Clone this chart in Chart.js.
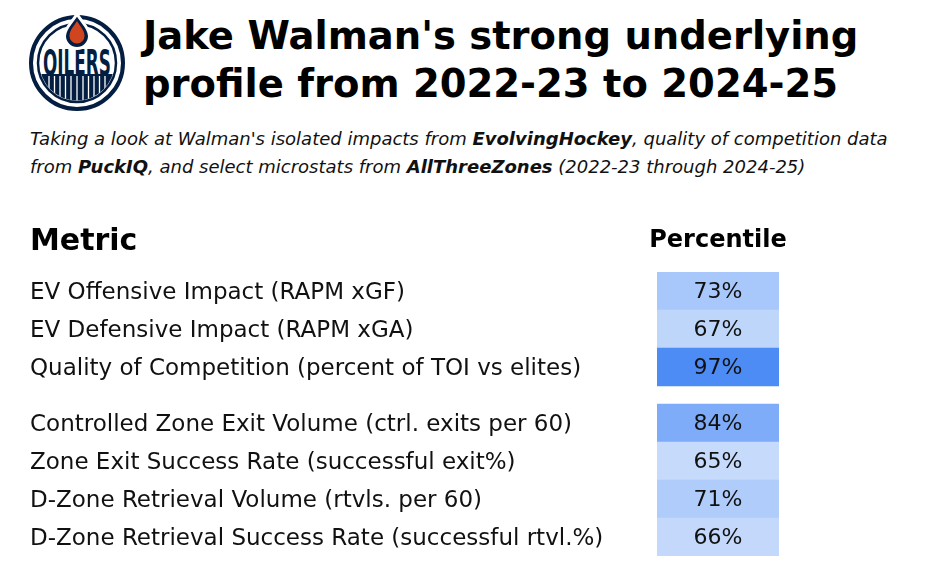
<!DOCTYPE html>
<html>
<head>
<meta charset="utf-8">
<script src="https://cdn.jsdelivr.net/npm/chart.js"></script>
<style>
  body{margin:0;background:#fff;font-family:"DejaVu Sans",sans-serif;color:#000}
  #wrap{position:relative;width:925px;height:570px;overflow:hidden}
  #logo{position:absolute;left:27px;top:13px}
  #title{position:absolute;left:143px;top:12px;font-size:38.5px;font-weight:700;line-height:48px;white-space:nowrap}
  #sub{position:absolute;left:30px;top:125px;font-size:18px;font-style:italic;line-height:28px;white-space:nowrap;color:#111}
  #sub b{font-weight:800}
  #box{position:absolute;left:0;top:200px;width:925px;height:370px}
</style>
</head>
<body>
<div id="wrap">
  <svg id="logo" width="100" height="100" viewBox="0 0 100 100">
    <defs>
      <clipPath id="inner"><circle cx="50" cy="50" r="37.5"/></clipPath>
    </defs>
    <circle cx="50" cy="50" r="46" fill="#fff" stroke="#041e42" stroke-width="4"/>
    <circle cx="50" cy="50" r="39" fill="none" stroke="#041e42" stroke-width="2.5"/>
    <g clip-path="url(#inner)">
      <rect x="0" y="61" width="100" height="40" fill="#041e42"/>
      <g stroke="#fff" stroke-width="1.3">
        <line x1="22" y1="63" x2="22" y2="100"/>
        <line x1="27.5" y1="63" x2="27.5" y2="100"/>
        <line x1="33" y1="63" x2="33" y2="100"/>
        <line x1="38.5" y1="63" x2="38.5" y2="100"/>
        <line x1="44" y1="63" x2="44" y2="100"/>
        <line x1="50" y1="63" x2="50" y2="100"/>
        <line x1="56" y1="63" x2="56" y2="100"/>
        <line x1="61.5" y1="63" x2="61.5" y2="100"/>
        <line x1="67" y1="63" x2="67" y2="100"/>
        <line x1="72.5" y1="63" x2="72.5" y2="100"/>
        <line x1="78" y1="63" x2="78" y2="100"/>
      </g>
    </g>
    <text x="16" y="62" font-family="DejaVu Sans Condensed" font-weight="bold" font-size="35" fill="#041e42" textLength="68" lengthAdjust="spacingAndGlyphs">OILERS</text>
    <path d="M50,1 C45,9.5 37.5,15 37.5,23 A12.5,12.5 0 0 0 62.5,23 C62.5,15 55,9.5 50,1Z" fill="#041e42" stroke="#fff" stroke-width="3"/>
    <path d="M50,8 C46.5,13.5 42.5,17.5 42.5,23 A7.5,7.5 0 0 0 57.5,23 C57.5,17.5 53.5,13.5 50,8Z" fill="#cf4520"/>
  </svg>
  <div id="title">Jake Walman's strong underlying<br>profile from 2022-23 to 2024-25</div>
  <div id="sub">Taking a look at Walman's isolated impacts from <b>EvolvingHockey</b>, quality of competition data<br>from <b>PuckIQ</b>, and select microstats from <b>AllThreeZones</b> (2022-23 through 2024-25)</div>
  <div id="box"><canvas id="c"></canvas></div>
</div>
<script>
const metrics = [
  'EV Offensive Impact (RAPM xGF)',
  'EV Defensive Impact (RAPM xGA)',
  'Quality of Competition (percent of TOI vs elites)',
  'Controlled Zone Exit Volume (ctrl. exits per 60)',
  'Zone Exit Success Rate (successful exit%)',
  'D-Zone Retrieval Volume (rtvls. per 60)',
  'D-Zone Retrieval Success Rate (successful rtvl.%)'
];
const percentiles = [73, 67, 97, 84, 65, 71, 66];
const groups = [0, 0, 0, 1, 1, 1, 1];
const headers = ['Metric', 'Percentile'];

const FONT = 'DejaVu Sans';
// gap between the two blocks, as a share of one row
const GAP = 18 / 38;
const rowPos = groups.map((g, i) => i + g * GAP);

function cellColor(v) {
  let t = Math.max(0, Math.min(1, (v - 50) / 50));
  let lo = [255, 255, 255], hi = [66, 133, 244];
  let c = lo.map((l, k) => Math.round(l + (hi[k] - l) * t));
  return 'rgb(' + c.join(',') + ')';
}

const cellText = {
  id: 'cellText',
  afterDatasetsDraw(chart) {
    const ctx = chart.ctx;
    const meta = chart.getDatasetMeta(0);
    ctx.save();
    ctx.font = '22px ' + FONT;
    ctx.fillStyle = '#111';
    ctx.textAlign = 'center';
    ctx.textBaseline = 'middle';
    meta.data.forEach((bar, i) => {
      ctx.fillText(percentiles[i] + '%', (bar.x + bar.base) / 2, bar.y + 1);
    });
    ctx.restore();
  }
};

const headerText = {
  id: 'headerText',
  afterDraw(chart) {
    const ctx = chart.ctx;
    const area = chart.chartArea;
    ctx.save();
    ctx.fillStyle = '#000';
    ctx.textBaseline = 'alphabetic';
    ctx.font = 'bold 30px ' + FONT;
    ctx.textAlign = 'left';
    ctx.fillText(headers[0], chart.scales.y.left, 50);
    ctx.font = 'bold 24px ' + FONT;
    ctx.textAlign = 'center';
    ctx.fillText(headers[1], (area.left + area.right) / 2, 47);
    ctx.restore();
  }
};

new Chart(document.getElementById('c'), {
  type: 'bar',
  data: {
    datasets: [{
      data: percentiles.map((v, i) => ({ x: [0, 1], y: rowPos[i], v: v })),
      backgroundColor: ctx => cellColor(ctx.raw ? ctx.raw.v : 50),
      borderWidth: 0,
      borderSkipped: false,
      barPercentage: 1,
      categoryPercentage: 1
    }]
  },
  options: {
    indexAxis: 'y',
    responsive: true,
    maintainAspectRatio: false,
    animation: false,
    layout: { padding: { left: 30, right: 146, top: 72, bottom: 14 } },
    plugins: { legend: { display: false }, tooltip: { enabled: false } },
    scales: {
      x: { type: 'linear', min: 0, max: 1, display: false },
      y: {
        type: 'linear',
        reverse: true,
        offset: false,
        min: -0.5,
        max: rowPos[rowPos.length - 1] + 0.5,
        grid: { display: false },
        border: { display: false },
        afterBuildTicks: s => { s.ticks = rowPos.map(p => ({ value: p })); },
        afterFit: s => { s.width = 627; s.paddingTop = 0; s.paddingBottom = 0; },
        ticks: {
          autoSkip: false,
          crossAlign: 'far',
          padding: 0,
          labelOffset: 2,
          color: '#111',
          font: { family: FONT, size: 23 },
          callback: (val, i) => metrics[i]
        }
      }
    }
  },
  plugins: [cellText, headerText]
});
</script>
</body>
</html>
